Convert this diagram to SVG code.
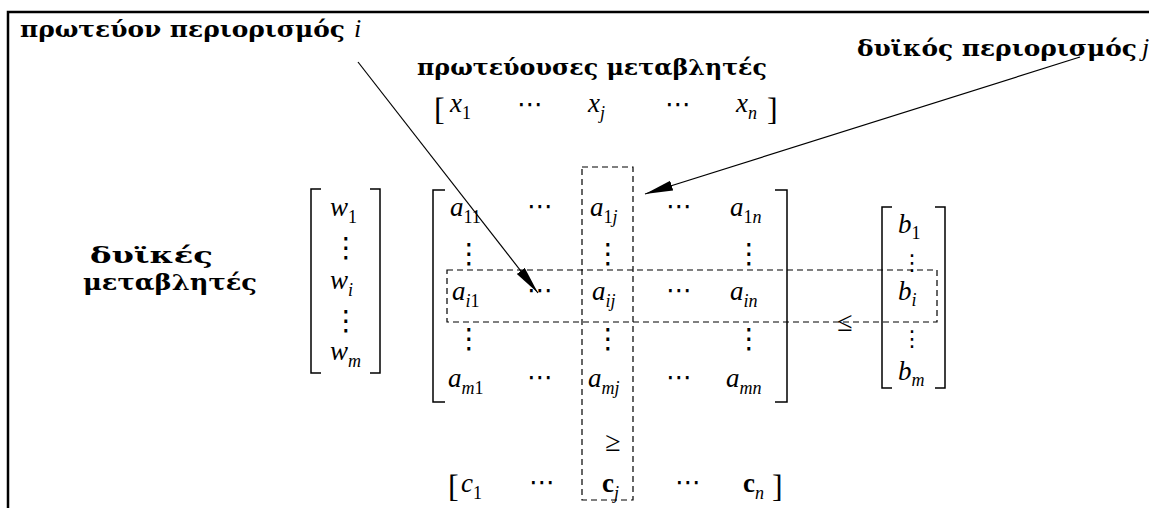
<svg xmlns="http://www.w3.org/2000/svg" width="1149" height="508" viewBox="0 0 1149 508">
<style>
.title{font-family:"DejaVu Serif","Liberation Serif",serif;font-weight:bold;font-size:23px;fill:#000}
.it{font-family:"Liberation Serif",serif;font-style:italic;font-size:26px;fill:#000}
.v{font-family:"Liberation Serif",serif;font-style:italic;font-size:27px;fill:#000}
.s{font-size:18px}
.up{font-style:normal}
.bf{font-family:"Liberation Serif",serif;font-weight:bold;font-size:27px;fill:#000}
.dots{font-family:"DejaVu Sans",sans-serif;font-size:26px;text-anchor:middle;fill:#000}
.vd{font-family:"DejaVu Sans",sans-serif;font-size:28px;text-anchor:middle;fill:#000}
.vds{font-family:"DejaVu Sans",sans-serif;font-size:22px;text-anchor:middle;fill:#000}
.rel{font-family:"Liberation Serif",serif;font-size:28px;text-anchor:middle;fill:#000}
.brk{font-family:"Liberation Serif",serif;font-size:32px;fill:#000}
.frame{fill:none;stroke:#000;stroke-width:2.5}
.br{fill:none;stroke:#000;stroke-width:1.5}
.dash{fill:none;stroke:#000;stroke-width:1.2;stroke-dasharray:6 4}
.conn{fill:none;stroke:#000;stroke-width:1.2;marker-end:url(#ah)}
</style>
<defs>
<marker id="ah" markerUnits="userSpaceOnUse" markerWidth="30" markerHeight="12" refX="28" refY="5" orient="auto">
<path d="M0,0 L28,5 L0,10 z" fill="#000"/>
</marker>
</defs>
<rect id="frame" class="frame" x="8" y="12" width="1170" height="520"/>

<g id="label-primal-constraint">
<text class="title" x="20" y="37" textLength="325" lengthAdjust="spacingAndGlyphs">πρωτεύον περιορισμός</text>
<text class="it" x="354" y="37">i</text>
</g>
<g id="label-primal-variables">
<text class="title" x="417" y="75" textLength="350" lengthAdjust="spacingAndGlyphs">πρωτεύουσες μεταβλητές</text>
</g>
<g id="label-dual-constraint">
<text class="title" x="857" y="56" textLength="280" lengthAdjust="spacingAndGlyphs">δυϊκός περιορισμός</text>
<text class="it" x="1142" y="56">j</text>
</g>
<g id="label-dual-variables">
<text class="title" x="90" y="263" textLength="123" lengthAdjust="spacingAndGlyphs">δυϊκές</text>
<text class="title" x="83" y="290" textLength="174" lengthAdjust="spacingAndGlyphs">μεταβλητές</text>
</g>

<g id="x-vector">
<text class="brk" x="434" y="120">[</text>
<text class="v" x="450" y="112">x<tspan class="s up" dy="7">1</tspan></text>
<text class="dots" x="530" y="113">⋯</text>
<text class="v" x="588" y="112">x<tspan class="s" dy="7">j</tspan></text>
<text class="dots" x="678" y="113">⋯</text>
<text class="v" x="736" y="112">x<tspan class="s" dy="7">n</tspan></text>
<text class="brk" x="767" y="120">]</text>
</g>

<g id="w-vector">
<path class="br" d="M321,189 H311 V373 H321"/>
<path class="br" d="M370,189 H380 V373 H370"/>
<text class="v" x="330" y="216">w<tspan class="s up" dy="7">1</tspan></text>
<text class="vd" x="346" y="257">⋮</text>
<text class="v" x="330" y="289">w<tspan class="s" dy="7">i</tspan></text>
<text class="vd" x="346" y="330">⋮</text>
<text class="v" x="330" y="360">w<tspan class="s" dy="7">m</tspan></text>
</g>

<g id="a-matrix">
<path class="br" d="M445,190 H433 V402 H445"/>
<path class="br" d="M775,190 H787 V402 H775"/>
<text class="v" x="450" y="216">a<tspan class="s up" dy="7">11</tspan></text>
<text class="dots" x="540" y="215">⋯</text>
<text class="v" x="590" y="216">a<tspan class="s up" dy="7">1</tspan><tspan class="s">j</tspan></text>
<text class="dots" x="679" y="215">⋯</text>
<text class="v" x="730" y="216">a<tspan class="s up" dy="7">1</tspan><tspan class="s">n</tspan></text>
<text class="vd" x="469" y="263">⋮</text>
<text class="vd" x="608" y="263">⋮</text>
<text class="vd" x="749" y="263">⋮</text>
<text class="v" x="452" y="300">a<tspan class="s" dy="7">i</tspan><tspan class="s up">1</tspan></text>
<text class="dots" x="540" y="299">⋯</text>
<text class="v" x="592" y="300">a<tspan class="s" dy="7">ij</tspan></text>
<text class="dots" x="679" y="299">⋯</text>
<text class="v" x="730" y="300">a<tspan class="s" dy="7">in</tspan></text>
<text class="vd" x="469" y="348">⋮</text>
<text class="vd" x="608" y="348">⋮</text>
<text class="vd" x="749" y="348">⋮</text>
<text class="v" x="448" y="387">a<tspan class="s" dy="7">m</tspan><tspan class="s up">1</tspan></text>
<text class="dots" x="540" y="386">⋯</text>
<text class="v" x="588" y="387">a<tspan class="s" dy="7">mj</tspan></text>
<text class="dots" x="679" y="386">⋯</text>
<text class="v" x="726" y="387">a<tspan class="s" dy="7">mn</tspan></text>
</g>

<g id="b-vector">
<path class="br" d="M892,207 H882 V388 H892"/>
<path class="br" d="M935,207 H945 V388 H935"/>
<text class="v" x="898" y="233">b<tspan class="s up" dy="6">1</tspan></text>
<text class="vds" x="912" y="270">⋮</text>
<text class="v" x="898" y="300">b<tspan class="s" dy="6">i</tspan></text>
<text class="vds" x="912" y="346">⋮</text>
<text class="v" x="898" y="380">b<tspan class="s" dy="6">m</tspan></text>
</g>

<g id="c-vector">
<text class="brk" x="448" y="497">[</text>
<text class="v" x="461" y="492">c<tspan class="s up" dy="7">1</tspan></text>
<text class="dots" x="542" y="491">⋯</text>
<text class="bf" x="602" y="492">c<tspan class="s" font-weight="normal" font-style="italic" dy="7">j</tspan></text>
<text class="dots" x="688" y="491">⋯</text>
<text class="bf" x="743" y="492">c<tspan class="s" font-weight="normal" font-style="italic" dy="7">n</tspan></text>
<text class="brk" x="772" y="497">]</text>
</g>

<g id="primal-constraint-row">
<rect class="dash" x="447" y="270" width="490" height="52"/>
<text class="rel" x="845" y="331">≤</text>
</g>
<g id="dual-constraint-column">
<rect class="dash" x="582" y="167" width="51" height="333"/>
<text class="rel" x="613" y="451">≥</text>
</g>

<g id="connectors">
<line class="conn" x1="358" y1="62" x2="538" y2="293"/>
<line class="conn" x1="1080" y1="57" x2="645" y2="194"/>
</g>
</svg>
